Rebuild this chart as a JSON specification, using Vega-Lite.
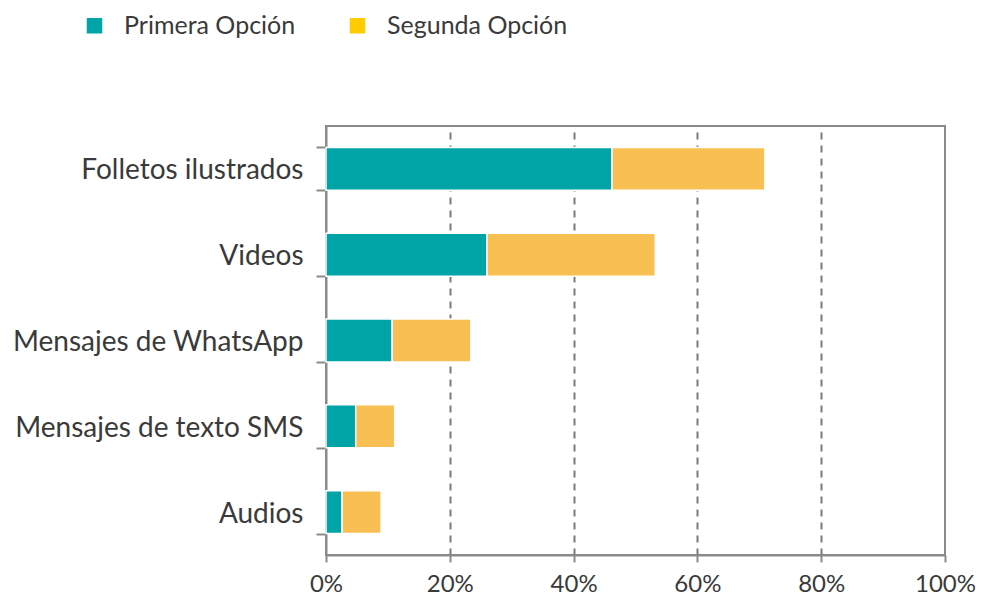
{
  "$schema": "https://vega.github.io/schema/vega-lite/v6.json",
  "width": 619,
  "height": 429,
  "autosize": {"type": "none"},
  "padding": {"left": 326, "top": 126, "right": 39, "bottom": 44},
  "background": "white",
  "config": {
    "font": "Lato",
    "view": {"stroke": "#8a8a8a", "strokeWidth": 2}
  },
  "data": {
    "values": [
      {"medio": "Folletos ilustrados", "opcion": "Primera Opción", "orden": 1, "valor": 0.462},
      {"medio": "Folletos ilustrados", "opcion": "Segunda Opción", "orden": 2, "valor": 0.247},
      {"medio": "Videos", "opcion": "Primera Opción", "orden": 1, "valor": 0.260},
      {"medio": "Videos", "opcion": "Segunda Opción", "orden": 2, "valor": 0.272},
      {"medio": "Mensajes de WhatsApp", "opcion": "Primera Opción", "orden": 1, "valor": 0.107},
      {"medio": "Mensajes de WhatsApp", "opcion": "Segunda Opción", "orden": 2, "valor": 0.127},
      {"medio": "Mensajes de texto SMS", "opcion": "Primera Opción", "orden": 1, "valor": 0.048},
      {"medio": "Mensajes de texto SMS", "opcion": "Segunda Opción", "orden": 2, "valor": 0.063},
      {"medio": "Audios", "opcion": "Primera Opción", "orden": 1, "valor": 0.026},
      {"medio": "Audios", "opcion": "Segunda Opción", "orden": 2, "valor": 0.063}
    ]
  },
  "layer": [
    {
      "mark": {"type": "bar", "stroke": "white", "strokeWidth": 1.5},
      "encoding": {
        "y": {
          "field": "medio",
          "type": "nominal",
          "sort": ["Folletos ilustrados", "Videos", "Mensajes de WhatsApp", "Mensajes de texto SMS", "Audios"],
          "scale": {"paddingInner": 0.5, "paddingOuter": 0.25},
          "axis": {
            "title": null,
            "domainColor": "#8a8a8a",
            "domainWidth": 2,
            "tickColor": "#8a8a8a",
            "tickWidth": 2,
            "tickSize": 10,
            "tickBand": "extent",
            "labelFont": "Lato",
            "labelFontSize": 28,
            "labelColor": "#3a3a3a",
            "labelPadding": 13,
            "labelOffset": 2,
            "labelLimit": 0
          }
        },
        "x": {
          "field": "valor",
          "type": "quantitative",
          "stack": "zero",
          "scale": {"domain": [0, 1], "nice": false},
          "axis": {
            "title": null,
            "format": ".0%",
            "values": [0, 0.2, 0.4, 0.6, 0.8, 1],
            "domainColor": "#8a8a8a",
            "domainWidth": 2,
            "tickColor": "#8a8a8a",
            "tickWidth": 2,
            "tickSize": 7,
            "labelFont": "Lato",
            "labelFontSize": 24,
            "labelColor": "#3a3a3a",
            "labelPadding": 10,
            "labelFlush": false,
            "grid": true,
            "gridColor": "#7a7a7a",
            "gridWidth": 2,
            "gridDash": [7, 6],
            "gridOpacity": {"condition": {"test": "datum.value === 0 || datum.value === 1", "value": 0}, "value": 1}
          }
        },
        "order": {"field": "orden", "type": "quantitative"},
        "color": {
          "field": "opcion",
          "type": "nominal",
          "scale": {"domain": ["Primera Opción", "Segunda Opción"], "range": ["#00A3A6", "#F8BF52"]},
          "legend": null
        }
      }
    },
    {
      "transform": [{"filter": "false"}],
      "mark": {"type": "square"},
      "encoding": {
        "color": {
          "field": "opcion",
          "type": "nominal",
          "scale": {"domain": ["Primera Opción", "Segunda Opción"], "range": ["#00A3A6", "#FFCC00"]},
          "legend": {
            "title": null,
            "orient": "none",
            "legendX": -244,
            "legendY": -113,
            "direction": "horizontal",
            "symbolType": "square",
            "symbolSize": 240,
            "symbolStrokeWidth": 0,
            "symbolOpacity": 1,
            "labelFont": "Lato",
            "labelFontSize": 25,
            "labelColor": "#3a3a3a",
            "labelOffset": 17,
            "labelLimit": 0,
            "columnPadding": 49
          }
        }
      }
    }
  ],
  "resolve": {"scale": {"color": "independent"}}
}
